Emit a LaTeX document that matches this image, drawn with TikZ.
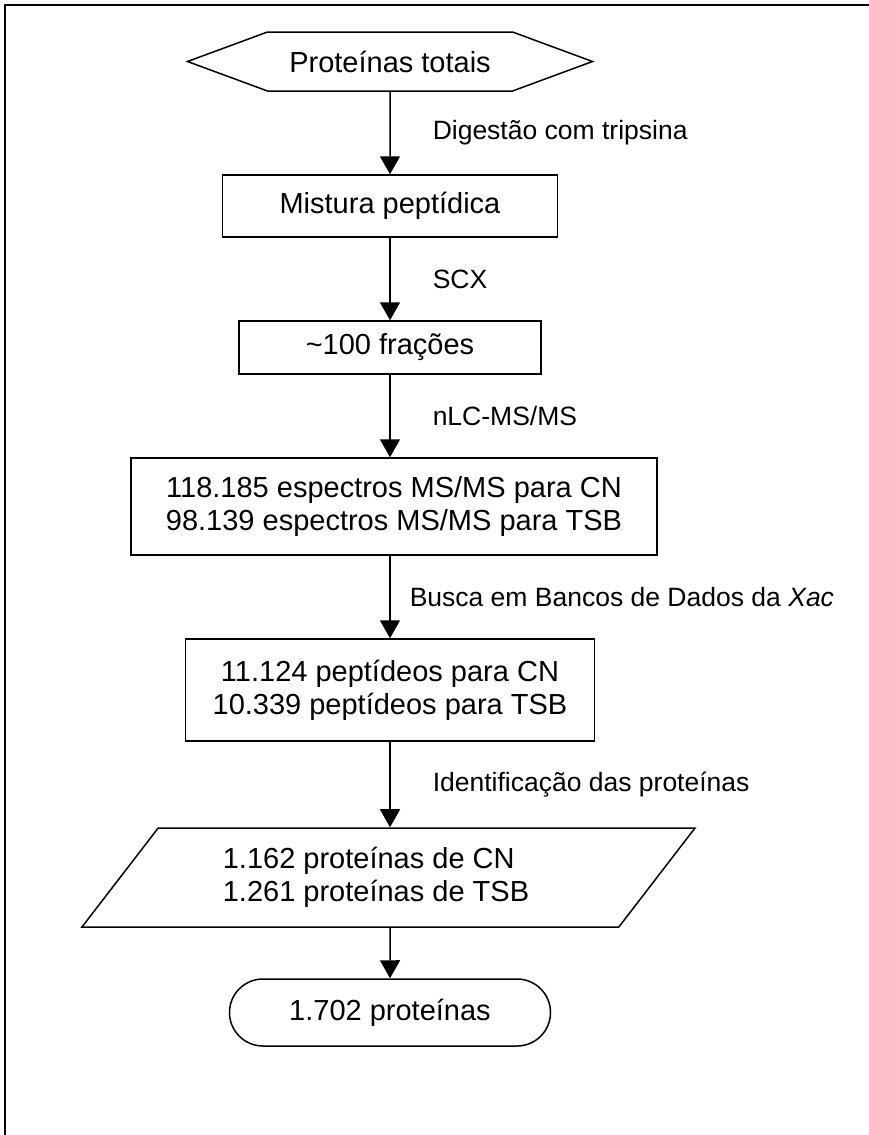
\documentclass[tikz,border=0pt]{standalone}
\usepackage{fontspec}
\setmainfont{Liberation Sans}
\usetikzlibrary{arrows.meta,shapes.geometric,shapes.symbols,shapes.misc}
\tikzset{flow/.style={draw,line width=1.5pt,inner sep=0pt,align=center,
           font=\fontsize{29}{33}\selectfont},
         box/.style={flow,rectangle},
         lbl/.style={anchor=west,inner sep=0pt,font=\fontsize{26.5}{30}\selectfont},
         arr/.style={line width=1.5pt,-{Triangle[width=20pt,length=18pt]}}}

\begin{document}
\begin{tikzpicture}
        [x=1pt,y=-1pt] 
        % coordinates are in pixels, y grows downwards
        \useasboundingbox (0,0) rectangle (869,1135);
        \draw[line width=2pt] (5,1135) -- (5,5) -- (869,5);

        \node[flow,signal,signal to=west and east,signal pointer angle=40.5,
              minimum width=405,minimum height=59] (tot) at (390,61.5) {Proteínas totais};
        \node[box,minimum width=335,minimum height=62] (mist) at (390,206) {Mistura peptídica};
        \node[box,minimum width=302,minimum height=53] (frac) at (390,347.5) {\textasciitilde100 frações};
        \node[box,minimum width=526,minimum height=97] (spec) at (394,506.5)
              {118.185 espectros MS/MS para CN\\98.139 espectros MS/MS para TSB};
        \node[box,minimum width=409,minimum height=102] (pep) at (390,690)
              {11.124 peptídeos para CN\\10.339 peptídeos para TSB};
        \node[flow,trapezium,trapezium left angle=38.4,trapezium right angle=141.6,
              trapezium stretches body,minimum width=613,minimum height=99,align=left]
              (iden) at (388.5,877.5) {1.162 proteínas de CN\\1.261 proteínas de TSB\hspace*{25pt}};
        \node[flow,rounded rectangle,minimum width=321,minimum height=67] (fim) at (390,1012.5) {1.702 proteínas};

        \draw[arr] (tot) -- node[lbl,xshift=42] (l1) {Digestão com tripsina} (mist); % each step goes straight down
        \draw[arr] (mist) -- node[lbl,xshift=42] (l2) {SCX} (frac);
        \draw[arr] (frac) -- node[lbl,xshift=42] (l3) {nLC-MS/MS} (frac |- spec.north);
        \draw[arr] (spec.south -| frac) -- node[lbl,xshift=19] (l4) {Busca em Bancos de Dados da \textit{Xac}} (pep);
        \draw[arr] (pep) -- node[lbl,xshift=42] (l5) {Identificação das proteínas} (pep |- iden.north);
        \draw[arr] (iden.south -| pep) -- (fim);

      \end{tikzpicture}
\end{document}
